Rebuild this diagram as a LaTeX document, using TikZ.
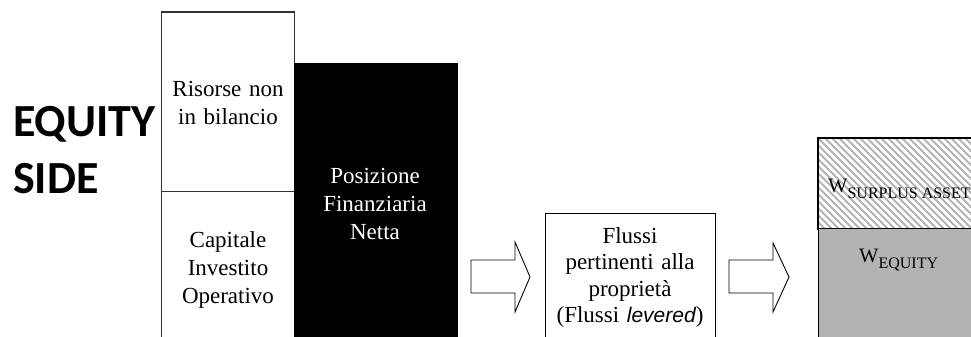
\documentclass[tikz,border=0pt]{standalone}
\usepackage{fontspec}
\setmainfont{Liberation Serif}
\setsansfont{Liberation Sans}
\newfontfamily\carlito{Carlito}
\definecolor{wgray}{HTML}{B3B3B3}
\definecolor{hgray}{HTML}{B4B4B4}
\begin{document}
\begin{tikzpicture}[x=1pt,y=-1pt,
  box/.style={draw=black!80, line width=1.2pt, inner sep=0pt, anchor=north west},
  txt/.style={inner sep=0pt, anchor=base, text width=160pt, align=center,
              font=\fontsize{23}{28}\selectfont},
  barrow/.style={draw=black, line width=0.9pt, fill=white, line join=miter},
  hatch/.style={draw=hgray, line width=2.1pt}]
\clip (0,0) rectangle (971,337);
\fill[white] (0,0) rectangle (971,337);

% title
\node[anchor=base west, inner sep=0pt, text width=200pt, align=left,
      font=\carlito\bfseries\fontsize{46}{57}\selectfont] (eq) at (13,136) {EQUITY\\SIDE};

% left column
\node[box, minimum width=133pt, minimum height=179.5pt] (ris) at (161,11.5) {};
\node[box, minimum width=133pt, minimum height=160pt] (cap) at (161,191) {};
\node[box, draw=black, fill=black, minimum width=163pt, minimum height=290pt] (pfn) at (294,63) {};

\node[txt] (tris) at (228,96) {Risorse non\\in bilancio};
\node[txt] (tcap) at (228,247) {Capitale\\Investito\\Operativo};
\node[txt, text=white] (tpfn) at (375,183) {Posizione\\Finanziaria\\Netta};

% flows box
\node[box, draw=black, minimum width=170pt, minimum height=140pt] (flx) at (545,213) {};
\node[txt, font=\fontsize{23}{26.5}\selectfont] (tflx) at (630,243)
  {Flussi\\pertinenti alla\\proprietà\\(Flussi {\sffamily\itshape\fontsize{21}{26}\selectfont levered})};

% value boxes
\node[box, draw=none, minimum width=170pt, minimum height=90pt] (wsa) at (818,138) {};
\begin{scope}
  \clip (wsa.north west) rectangle (wsa.south east);
  \foreach \i in {-16,...,26}
    \draw[hatch] ([xshift=\i*7pt]wsa.north west) -- ++(130,130);
\end{scope}
\draw[black, line width=1.2pt] (wsa.south west) rectangle (wsa.north east);
\node[box, draw=black, fill=wgray, minimum width=170pt, minimum height=130pt] (weq) at (818,228) {};

\node[anchor=base west, inner sep=0pt, font=\fontsize{20.5}{24}\selectfont] (tw1) at (828,192)
  {W\raisebox{-6pt}{\fontsize{16}{18}\selectfont SURPLUS ASSET}};
\node[anchor=base west, inner sep=0pt, font=\fontsize{20.5}{24}\selectfont] (tw2) at (859,262)
  {W\raisebox{-6pt}{\fontsize{16}{18}\selectfont EQUITY}};

% block arrows
\draw[barrow] (471,260) -- (515,260) -- (515,242) -- (530,277) -- (515,312)
  -- (515,293) -- (471,293) -- cycle;
\draw[barrow] (729,260) -- (773,260) -- (773,243) -- (789,277) -- (773,312)
  -- (773,293) -- (729,293) -- cycle;
\end{tikzpicture}
\end{document}
